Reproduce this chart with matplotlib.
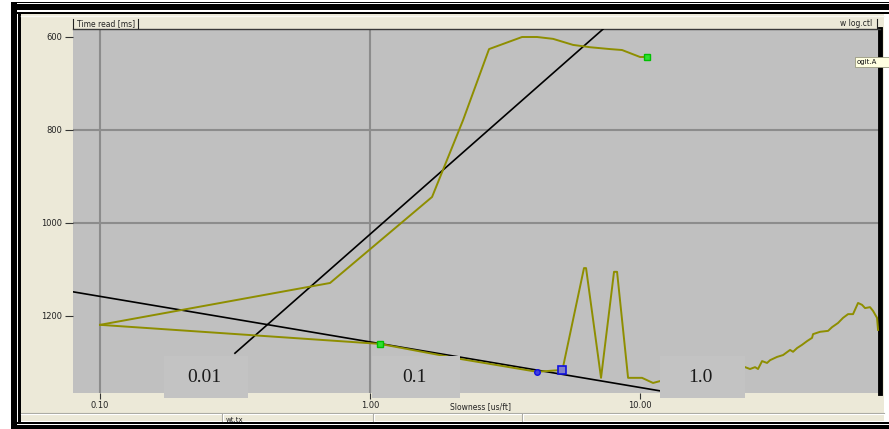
import matplotlib
matplotlib.use("Agg")
import matplotlib.pyplot as plt
from matplotlib.patches import Rectangle
from matplotlib.lines import Line2D

# picked curve, upper branch (x on log axis, depth in ms)
upper_x = [0.10, 0.711, 1.697, 2.21, 2.759, 3.656, 4.155, 4.763, 5.647, 6.53, 7.743, 8.577, 10.0, 10.61]
upper_y = [1219, 1129, 944, 779, 626, 600, 600, 604, 617, 622, 626, 628, 643, 643]

# picked curve, lower branch with the two spikes
lower_x = [0.10, 1.089, 2.191, 4.155, 5.141, 5.185, 6.20, 6.31, 7.17, 8.01, 8.22, 9.03, 10.17, 11.17, 11.86]
lower_y = [1219, 1260, 1293, 1320, 1316, 1310, 1097, 1097, 1333, 1105, 1105, 1333, 1333, 1344, 1340]

# noisy trace at the far right
tail_x = [24.49, 25.55, 26.67, 27.35, 28.31, 29.54, 30.31, 32.17, 33.86, 35.94, 36.87, 38.15,
          39.81, 41.55, 43.36, 43.73, 46.42, 49.70, 51.42, 54.12, 56.48, 58.94, 61.50, 64.18,
          66.41, 68.13, 71.10, 72.94, 75.47, 76.12]
tail_y = [1310, 1314, 1310, 1314, 1297, 1301, 1295, 1288, 1284, 1273, 1277, 1269,
          1262, 1254, 1247, 1239, 1234, 1232, 1224, 1215, 1204, 1196, 1196, 1172,
          1176, 1183, 1181, 1189, 1204, 1230]

# straight fit lines
fit1_x = [0.0794, 11.86]
fit1_y = [1148, 1361]
fit2_x = [0.316, 7.295]
fit2_y = [1280, 583]

# handles
green_x = [1.089, 10.61]
green_y = [1260, 643]
blue_sq_x, blue_sq_y = [5.141], [1316]
blue_dot_x, blue_dot_y = [4.155], [1320]

y_ticks = [600, 800, 1000, 1200]
y_labels = ["600", "800", "1000", "1200"]
x_ticks = [0.1, 1.0, 10.0]
x_labels = ["0.10", "1.00", "10.00"]
grid_y = [800, 1000]
grid_x = [0.1, 1.0]
box_labels = ["0.01", "0.1", "1.0"]

W, H = 889, 429
BEIGE = "#ECE9D8"
PLOT_BG = "#C0C0C0"
OLIVE = "#8E8E00"


def fx(px):
    return px / W


def fy(py):
    return 1 - py / H


def frect(x0, y0, x1, y1, color, z=1, **kw):
    # rectangle given in pixel coords (y from top)
    r = Rectangle((fx(x0), fy(y1)), fx(x1) - fx(x0), fy(y0) - fy(y1),
                  transform=fig.transFigure, facecolor=color, edgecolor=kw.pop("ec", "none"),
                  linewidth=kw.pop("lw", 0), zorder=z, **kw)
    fig.add_artist(r)


def fline(xs, ys, color, lw=1.0, z=1):
    fig.add_artist(Line2D([fx(v) for v in xs], [fy(v) for v in ys],
                          transform=fig.transFigure, color=color, lw=lw, zorder=z))


fig = plt.figure(figsize=(W / 100, H / 100), dpi=100, facecolor="white")

# window frame
frect(21, 14, 884, 421, BEIGE, z=-1)
frect(11, 1.7, 889, 3.3, "black")
frect(11, 4, 889, 10, "black")
frect(11, 11.7, 889, 14, "black")
frect(11, 2, 17, 429, "black")
frect(18, 12, 21, 422, "black")
frect(11, 421.5, 889, 423.5, "black")
frect(11, 424.5, 889, 429, "black")
fline([21, 884], [16, 16], "#F8F8F2", lw=1.0)

# status bar
fline([21, 884], [413, 413], "#A8A8A0", lw=0.8)
fline([21, 884], [414, 414], "white", lw=0.8)
for sx in [222, 373, 522]:
    fline([sx, sx], [414, 421], "#A8A8A0", lw=0.8)
    fline([sx + 1, sx + 1], [414, 421], "white", lw=0.8)
fig.text(fx(226), fy(419.5), "wt.tx", fontsize=5, color="#222", va="center", ha="left")

# main plot
ax = fig.add_axes([fx(73), fy(393), fx(880) - fx(73), (393 - 29) / H], facecolor=PLOT_BG)
ax.set_xscale("log")
ax.set_xlim(0.0794, 77.4)
ax.set_ylim(1365.6, 582.8)

for g in grid_y:
    ax.axhline(g, color="#8C8C8C", lw=1.5, zorder=1)
for g in grid_x:
    ax.axvline(g, color="#8C8C8C", lw=1.5, zorder=1)

ax.plot(fit1_x, fit1_y, color="black", lw=1.2, zorder=3)
ax.plot(fit2_x, fit2_y, color="black", lw=1.2, zorder=3)
ax.plot(upper_x, upper_y, color=OLIVE, lw=1.4, zorder=4)
ax.plot(lower_x, lower_y, color=OLIVE, lw=1.4, zorder=4)
ax.plot(tail_x, tail_y, color=OLIVE, lw=1.4, zorder=4)

ax.plot(green_x, green_y, ls="none", marker="s", ms=5, mfc="#30E030", mec="#00C000", mew=1, zorder=5)
ax.plot(blue_sq_x, blue_sq_y, ls="none", marker="s", ms=5.5, mfc="#8080C8", mec="#1010E0", mew=1.2, zorder=5)
ax.plot(blue_dot_x, blue_dot_y, ls="none", marker="o", ms=4, mfc="#4040E0", mec="#1010E0", zorder=5)

ax.set_yticks(y_ticks)
ax.set_yticklabels(y_labels)
ax.set_xticks(x_ticks)
ax.set_xticklabels(x_labels)
ax.xaxis.set_minor_locator(matplotlib.ticker.NullLocator())
ax.tick_params(axis="y", length=6, width=0.8, color="#333", labelsize=6, labelcolor="#222", pad=2)
ax.tick_params(axis="x", length=4, width=0.8, color="#333", labelsize=6, labelcolor="#222", pad=2)

for side in ["left", "bottom"]:
    ax.spines[side].set_visible(False)
ax.spines["top"].set_color("#3A3A3A")
ax.spines["top"].set_linewidth(1.0)
ax.spines["right"].set_color("black")
ax.spines["right"].set_linewidth(3.5)

# axis captions
fig.text(fx(77), fy(23.5), "Time read [ms]", fontsize=5.5, color="#222", va="center", ha="left")
fline([73, 73], [19, 28], "#222", lw=0.8)
fline([138, 138], [19, 28], "#222", lw=0.8)
fig.text(fx(872), fy(24), "w log.ctl", fontsize=5.5, color="#222", va="center", ha="right")
fline([877, 877], [19, 28], "#222", lw=0.8)
fig.text(fx(480), fy(407), "Slowness [us/ft]", fontsize=5.5, color="#222", va="center", ha="center")

# value boxes laid over the plot
boxes = [(164, 248), (372, 460), (660, 745)]
for (x0, x1), lab in zip(boxes, box_labels):
    frect(x0, 356, x1, 398, "#C3C3C3", z=2)
    fig.text(fx((x0 + x1) / 2 - 2), fy(377), lab, fontsize=14, family="Liberation Serif",
             color="#1A1A1A", ha="center", va="center", zorder=3)

# curve name tag
frect(855, 57, 889, 67, "#FFFFE1", z=4, ec="#9A9A80", lw=0.6)
fig.text(fx(857), fy(62), "ogit.A", fontsize=5, color="#111", va="center", ha="left", zorder=5)

fig.savefig("out.png", dpi=100, facecolor="white")
